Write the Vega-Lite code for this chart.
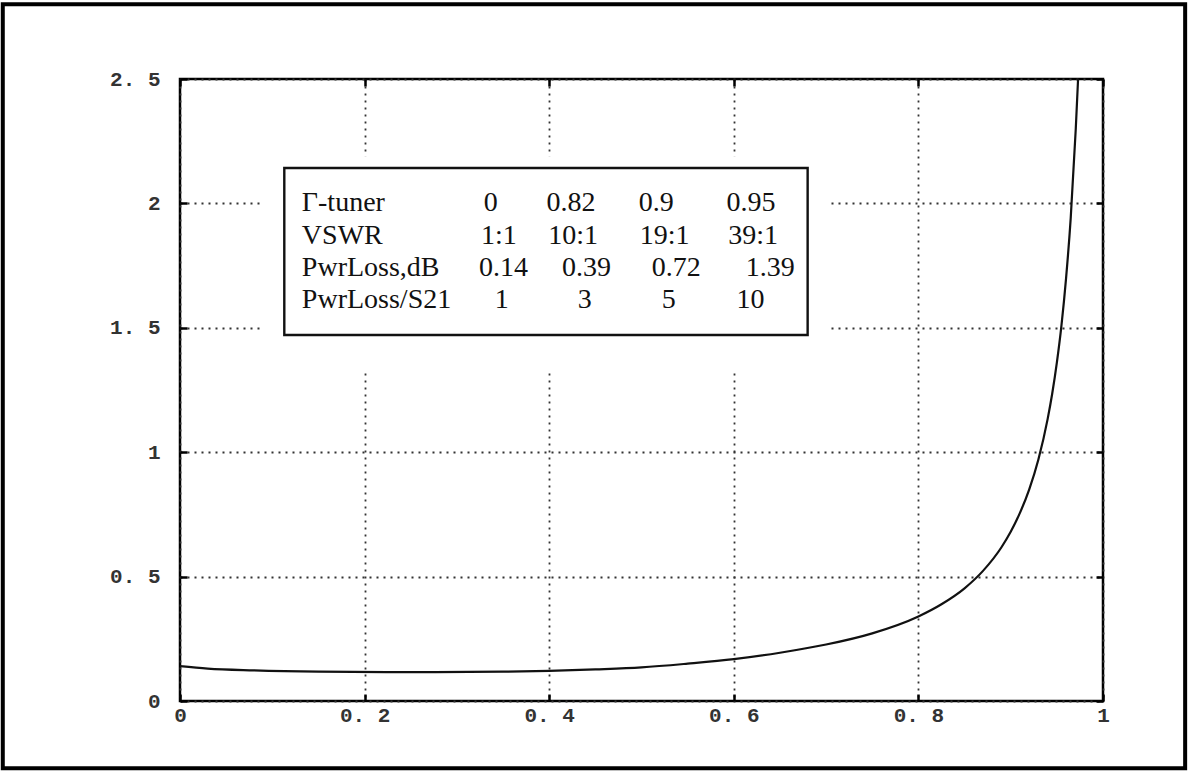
{
  "$schema": "https://vega.github.io/schema/vega-lite/v6.json",
  "width": 923,
  "height": 622,
  "autosize": {"type": "none"},
  "padding": {"left": 180, "top": 79, "right": 85, "bottom": 70},
  "background": "white",
  "config": {
    "view": {"stroke": "#000", "strokeWidth": 2.5}
  },
  "datasets": {
    "curve": [
      {"gamma": 0, "loss": 0.14},
      {"gamma": 0.03, "loss": 0.13},
      {"gamma": 0.08, "loss": 0.123},
      {"gamma": 0.15, "loss": 0.118},
      {"gamma": 0.25, "loss": 0.116},
      {"gamma": 0.35, "loss": 0.118},
      {"gamma": 0.4, "loss": 0.121},
      {"gamma": 0.45, "loss": 0.127},
      {"gamma": 0.5, "loss": 0.135},
      {"gamma": 0.55, "loss": 0.15},
      {"gamma": 0.6, "loss": 0.168},
      {"gamma": 0.65, "loss": 0.194},
      {"gamma": 0.7, "loss": 0.227},
      {"gamma": 0.75, "loss": 0.272},
      {"gamma": 0.8, "loss": 0.34},
      {"gamma": 0.825, "loss": 0.389},
      {"gamma": 0.85, "loss": 0.453},
      {"gamma": 0.87, "loss": 0.523},
      {"gamma": 0.89, "loss": 0.618},
      {"gamma": 0.9, "loss": 0.68},
      {"gamma": 0.91, "loss": 0.756},
      {"gamma": 0.92, "loss": 0.85},
      {"gamma": 0.93, "loss": 0.971},
      {"gamma": 0.94, "loss": 1.133},
      {"gamma": 0.945, "loss": 1.236},
      {"gamma": 0.95, "loss": 1.36},
      {"gamma": 0.955, "loss": 1.51},
      {"gamma": 0.96, "loss": 1.7},
      {"gamma": 0.965, "loss": 1.94},
      {"gamma": 0.9705, "loss": 2.3},
      {"gamma": 0.973, "loss": 2.5}
    ],
    "table": [
      {"cell": "Γ-tuner", "cx": 0.132, "cy": 2.0},
      {"cell": "0", "cx": 0.329, "cy": 2.0},
      {"cell": "0.82", "cx": 0.397, "cy": 2.0},
      {"cell": "0.9", "cx": 0.497, "cy": 2.0},
      {"cell": "0.95", "cx": 0.592, "cy": 2.0},
      {"cell": "VSWR", "cx": 0.132, "cy": 1.867},
      {"cell": "1:1", "cx": 0.326, "cy": 1.867},
      {"cell": "10:1", "cx": 0.399, "cy": 1.867},
      {"cell": "19:1", "cx": 0.498, "cy": 1.867},
      {"cell": "39:1", "cx": 0.594, "cy": 1.867},
      {"cell": "PwrLoss,dB", "cx": 0.132, "cy": 1.739},
      {"cell": "0.14", "cx": 0.324, "cy": 1.739},
      {"cell": "0.39", "cx": 0.414, "cy": 1.739},
      {"cell": "0.72", "cx": 0.511, "cy": 1.739},
      {"cell": "1.39", "cx": 0.613, "cy": 1.739},
      {"cell": "PwrLoss/S21", "cx": 0.132, "cy": 1.61},
      {"cell": "1", "cx": 0.341, "cy": 1.61},
      {"cell": "3", "cx": 0.431, "cy": 1.61},
      {"cell": "5", "cx": 0.522, "cy": 1.61},
      {"cell": "10", "cx": 0.603, "cy": 1.61}
    ],
    "mask": [{"x1": 0.089, "x2": 0.704, "y1": 1.33, "y2": 2.19}],
    "box": [{"x1": 0.113, "x2": 0.68, "y1": 1.471, "y2": 2.142}],
    "frame": [{"x1": -0.192, "x2": 1.089, "y1": -0.27, "y2": 2.8}]
  },
  "resolve": {"axis": {"x": "independent", "y": "independent"}},
  "layer": [
    {
      "data": {"name": "mask"},
      "mark": {"type": "rect", "fill": "white", "strokeWidth": 0},
      "encoding": {
        "x": {
          "field": "x1", "type": "quantitative",
          "scale": {"domain": [0, 1], "nice": false, "zero": false},
          "axis": {
            "orient": "bottom", "values": [0, 0.2, 0.4, 0.6, 0.8, 1],
            "format": ".1~f", "labelExpr": "replace(datum.label, '.', '. ')",
            "grid": true, "gridDash": [2, 5], "gridColor": "#333", "gridWidth": 1.8,
            "ticks": true, "tickSize": -7, "tickColor": "#000", "tickWidth": 2.5,
            "domain": false, "title": null,
            "labelFont": "Liberation Mono", "labelFontWeight": "bold", "labelFontSize": 21,
            "labelColor": "#333", "labelPadding": 10, "labelFlush": false
          }
        },
        "x2": {"field": "x2"},
        "y": {
          "field": "y1", "type": "quantitative",
          "scale": {"domain": [0, 2.5], "nice": false, "zero": false},
          "axis": {
            "orient": "left", "values": [0, 0.5, 1, 1.5, 2, 2.5],
            "format": ".1~f", "labelExpr": "replace(datum.label, '.', '. ')",
            "grid": true, "gridDash": [2, 5], "gridColor": "#333", "gridWidth": 1.8,
            "ticks": true, "tickSize": -7, "tickColor": "#000", "tickWidth": 2.5,
            "domain": false, "title": null,
            "labelFont": "Liberation Mono", "labelFontWeight": "bold", "labelFontSize": 21,
            "labelColor": "#333", "labelPadding": 27, "labelFlush": false
          }
        },
        "y2": {"field": "y2"}
      }
    },
    {
      "data": {"name": "box"},
      "mark": {"type": "rect", "fill": "white", "stroke": "#111", "strokeWidth": 2.4},
      "encoding": {
        "x": {"field": "x1", "type": "quantitative", "scale": {"domain": [0, 1], "nice": false, "zero": false}, "axis": null},
        "x2": {"field": "x2"},
        "y": {"field": "y1", "type": "quantitative", "scale": {"domain": [0, 2.5], "nice": false, "zero": false}, "axis": null},
        "y2": {"field": "y2"}
      }
    },
    {
      "data": {"name": "table"},
      "mark": {"type": "text", "align": "left", "baseline": "middle", "font": "Liberation Serif", "fontSize": 28, "color": "#111"},
      "encoding": {
        "x": {"field": "cx", "type": "quantitative", "scale": {"domain": [0, 1], "nice": false, "zero": false}, "axis": null},
        "y": {"field": "cy", "type": "quantitative", "scale": {"domain": [0, 2.5], "nice": false, "zero": false}, "axis": null},
        "text": {"field": "cell", "type": "nominal"}
      }
    },
    {
      "data": {"name": "curve"},
      "mark": {"type": "line", "color": "#111", "strokeWidth": 2.2, "interpolate": "monotone", "clip": true},
      "encoding": {
        "x": {"field": "gamma", "type": "quantitative", "scale": {"domain": [0, 1], "nice": false, "zero": false}, "axis": null},
        "y": {"field": "loss", "type": "quantitative", "scale": {"domain": [0, 2.5], "nice": false, "zero": false}, "axis": null}
      }
    },
    {
      "data": {"name": "frame"},
      "mark": {"type": "rect", "fill": null, "fillOpacity": 0, "stroke": "#000", "strokeWidth": 4},
      "encoding": {
        "x": {
          "field": "x1", "type": "quantitative",
          "scale": {"domain": [0, 1], "nice": false, "zero": false},
          "axis": {
            "orient": "top", "values": [0, 0.2, 0.4, 0.6, 0.8, 1],
            "labels": false, "grid": false, "domain": false, "title": null,
            "ticks": true, "tickSize": -7, "tickColor": "#000", "tickWidth": 2.5
          }
        },
        "x2": {"field": "x2"},
        "y": {
          "field": "y1", "type": "quantitative",
          "scale": {"domain": [0, 2.5], "nice": false, "zero": false},
          "axis": {
            "orient": "right", "values": [0, 0.5, 1, 1.5, 2, 2.5],
            "labels": false, "grid": false, "domain": false, "title": null,
            "ticks": true, "tickSize": -7, "tickColor": "#000", "tickWidth": 2.5
          }
        },
        "y2": {"field": "y2"}
      }
    }
  ]
}
